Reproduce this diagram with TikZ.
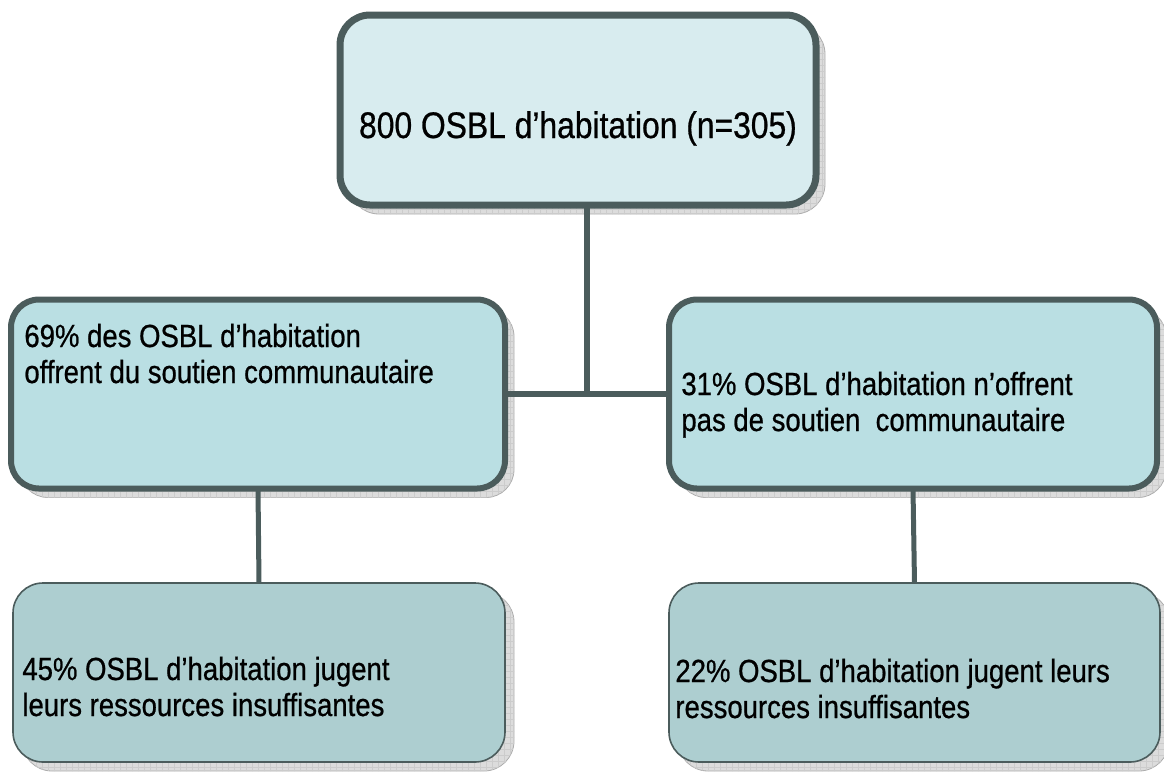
\documentclass[tikz,border=0pt]{standalone}
\usepackage{fontspec}
\setmainfont{Liberation Sans}[FakeStretch=0.86,FakeBold=0.7]
\usetikzlibrary{positioning,shadows,patterns}

\tikzset{
  boxshade/.style={
    general shadow={shadow xshift=4.5pt,shadow yshift=-4.5pt,fill=shad,draw=gray!65,line width=0.4pt},
    general shadow={shadow xshift=4.5pt,shadow yshift=-4.5pt,pattern=grid,pattern color=gray!40}},
  txt/.style={inner sep=0pt,align=left,anchor=base west,
    font=\fontsize{16pt}{18pt}\selectfont}
}

\begin{document}
\begin{tikzpicture}[x=0.5pt,y=-0.5pt]
  \definecolor{edge}{HTML}{4B5C5C}
  \definecolor{lite}{HTML}{D8ECEF}
  \definecolor{mid}{HTML}{BADFE3}
  \definecolor{dark}{HTML}{ADCED0}
  \definecolor{shad}{HTML}{DCDCDC}

  \useasboundingbox (0,0) rectangle (1164,773);

  % boxes
  \begin{scope}[
      every node/.style={rectangle,draw=edge,inner sep=0pt,outer sep=0pt,boxshade}
  ]
    \node (top)    [minimum width=238pt,minimum height=95pt,rounded corners=15pt,
                    line width=3.5pt,fill=lite] at (578,110)   {};
    \node (left1)  [minimum width=247pt,minimum height=94.5pt,rounded corners=14pt,
                    line width=3pt,fill=mid]    at (258,394)   {};
    \node (right1) [minimum width=244pt,minimum height=94.5pt,rounded corners=14pt,
                    line width=3pt,fill=mid]    at (913,394)   {};
    \node (left2)  [minimum width=246pt,minimum height=89.5pt,rounded corners=15pt,
                    line width=0.8pt,fill=dark] at (259,672.5) {};
    \node (right2) [minimum width=245.5pt,minimum height=89.5pt,rounded corners=15pt,
                    line width=0.8pt,fill=dark] at (914.5,672.5) {};
  \end{scope}

  % connectors
  \coordinate (hub) at (587,394);
  \draw [edge,line width=3pt]   (top.south -| hub) -- (hub);
  \draw [edge,line width=3pt]   (left1.east) -- (right1.west);
  \draw [edge,line width=2.5pt] (left1.south) -- (left2.north);
  \draw [edge,line width=2.5pt] (right1.south) -- (right2.north);

  % texts (base = baseline of the last line)
  \node (ttop) [inner sep=0pt,anchor=base,font=\fontsize{18.5pt}{20pt}\selectfont]
        at (578,138) {800 OSBL d’habitation (n=305)};
  \node (tl1) [txt] at (24,383)  {69\% des OSBL d’habitation\\offrent du soutien communautaire};
  \node (tr1) [txt] at (681,431) {31\% OSBL d’habitation n’offrent\\pas de soutien \ communautaire};
  \node (tl2) [txt] at (22,716)  {45\% OSBL d’habitation jugent\\leurs ressources insuffisantes};
  \node (tr2) [txt] at (675,718) {22\% OSBL d’habitation jugent leurs\\ressources insuffisantes};
\end{tikzpicture}
\end{document}
